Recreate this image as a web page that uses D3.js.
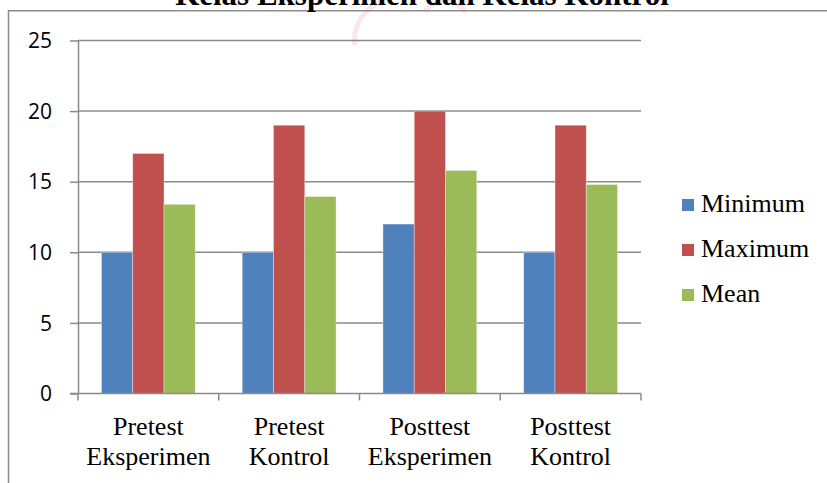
<!DOCTYPE html>
<html>
<head>
<meta charset="utf-8">
<script src="https://cdn.jsdelivr.net/npm/d3@7"></script>
<style>
  html, body { margin: 0; padding: 0; background: #fff; }
  svg { display: block; }
</style>
</head>
<body>
<svg id="chart" width="827" height="483"></svg>
<script>
// Score summary per test group
const categories = [
  ["Pretest", "Eksperimen"],
  ["Pretest", "Kontrol"],
  ["Posttest", "Eksperimen"],
  ["Posttest", "Kontrol"]
];
const seriesNames = ["Minimum", "Maximum", "Mean"];
const minimumValues = [10, 10, 12, 10];
const maximumValues = [17, 19, 20, 19];
const meanValues = [13.4, 13.95, 15.8, 14.8];
const yTicks = [0, 5, 10, 15, 20, 25];
const titleText = "Kelas Eksperimen dan Kelas Kontrol";

const seriesValues = [minimumValues, maximumValues, meanValues];
const colors = ["#4F81BD", "#C0504D", "#9BBB59"];

const svg = d3.select("#chart");
const plot = { left: 78, right: 641, top: 40.5, bottom: 393.5 };
const gridColor = "#8a8a8a";

// outer chart frame (continues past the right and bottom edges)
svg.append("path")
  .attr("d", "M8.5,490 V10.75 H840")
  .attr("fill", "none")
  .attr("stroke", "#8c8c8c")
  .attr("stroke-width", 1.5);

// faint pink stamp behind the title
const stamp = svg.append("g").attr("fill", "#e0506a").attr("opacity", 0.13);
stamp.append("path")
  .attr("d", d3.arc()({ innerRadius: 38, outerRadius: 43, startAngle: -1.7, endAngle: -0.3 }))
  .attr("transform", "translate(395,40)");
stamp.append("path")
  .attr("d", d3.arc()({ innerRadius: 24, outerRadius: 29, startAngle: -0.9, endAngle: 0.9 }))
  .attr("transform", "translate(445,28)");

// title, clipped at the top edge of the page
svg.append("text")
  .attr("x", 422)
  .attr("y", 5)
  .attr("text-anchor", "middle")
  .attr("font-family", "'Liberation Serif', 'Times New Roman', serif")
  .attr("font-weight", "bold")
  .attr("font-size", 31)
  .attr("fill", "#000")
  .text(titleText);

const x = d3.scaleBand()
  .domain(d3.range(categories.length))
  .range([plot.left, plot.right])
  .paddingInner(0).paddingOuter(0);

const barW = x.bandwidth() / 4.5;
const xs = d3.scaleBand()
  .domain(seriesNames)
  .range([barW * 0.75, barW * 3.75]);

const y = d3.scaleLinear().domain([0, 25]).range([plot.bottom, plot.top]);

// horizontal gridlines
svg.append("g").selectAll("line")
  .data(yTicks.filter(d => d > 0))
  .join("line")
  .attr("x1", plot.left)
  .attr("x2", plot.right)
  .attr("y1", d => y(d))
  .attr("y2", d => y(d))
  .attr("stroke", gridColor)
  .attr("stroke-width", 1.5);

// bars
const groups = svg.append("g").selectAll("g")
  .data(categories.map((c, i) => i))
  .join("g")
  .attr("transform", i => `translate(${x(i)},0)`);

groups.selectAll("rect")
  .data(i => seriesNames.map((s, k) => ({ s, k, v: seriesValues[k][i] })))
  .join("rect")
  .attr("x", d => xs(d.s))
  .attr("width", xs.bandwidth())
  .attr("y", d => y(d.v))
  .attr("height", d => y(0) - y(d.v))
  .attr("fill", d => colors[d.k])
  .attr("stroke", "rgba(255,255,255,0.45)")
  .attr("stroke-width", 0.8);

// y axis
const yAxis = svg.append("g")
  .attr("transform", `translate(${plot.left},0)`)
  .call(d3.axisLeft(y).tickValues(yTicks).tickSize(8).tickPadding(18).tickSizeOuter(0));
yAxis.select(".domain").attr("stroke", gridColor).attr("stroke-width", 1.5);
yAxis.selectAll(".tick line").attr("stroke", gridColor).attr("stroke-width", 1.5);
yAxis.selectAll(".tick text")
  .attr("font-family", "'Open Sans', sans-serif")
  .attr("font-size", 21)
  .attr("fill", "#000")
  .attr("dy", "0.34em");

// x axis baseline with ticks at category boundaries
const xAxis = svg.append("g").attr("transform", `translate(0,${plot.bottom})`);
xAxis.append("line")
  .attr("x1", plot.left - 8).attr("x2", plot.right)
  .attr("stroke", gridColor).attr("stroke-width", 1.5);
const bounds = d3.range(categories.length + 1).map(i =>
  i < categories.length ? x(i) : x(i - 1) + x.bandwidth());
xAxis.selectAll(".b")
  .data(bounds)
  .join("line")
  .attr("x1", d => d).attr("x2", d => d)
  .attr("y1", 0).attr("y2", 7)
  .attr("stroke", gridColor).attr("stroke-width", 1.5);

// category labels, two lines each
const catLabels = svg.append("g").selectAll("text")
  .data(categories.map((c, i) => ({ c, i })))
  .join("text")
  .attr("text-anchor", "middle")
  .attr("font-family", "'Liberation Serif', 'Times New Roman', serif")
  .attr("font-size", 26)
  .attr("fill", "#000");
catLabels.selectAll("tspan")
  .data(d => d.c.map((line, j) => ({ line, j, cx: x(d.i) + x.bandwidth() / 2 })))
  .join("tspan")
  .attr("x", d => d.cx)
  .attr("y", d => 435 + d.j * 29.5)
  .text(d => d.line);

// legend
const legend = svg.append("g").selectAll("g")
  .data(seriesNames.map((s, k) => ({ s, k })))
  .join("g")
  .attr("transform", d => `translate(682,${211 + d.k * 45})`);
legend.append("rect")
  .attr("x", 0).attr("y", -12)
  .attr("width", 12).attr("height", 12)
  .attr("fill", d => colors[d.k]);
legend.append("text")
  .attr("x", 19).attr("y", 1)
  .attr("font-family", "'Liberation Serif', 'Times New Roman', serif")
  .attr("font-size", 26)
  .attr("fill", "#000")
  .text(d => d.s);
</script>
</body>
</html>
